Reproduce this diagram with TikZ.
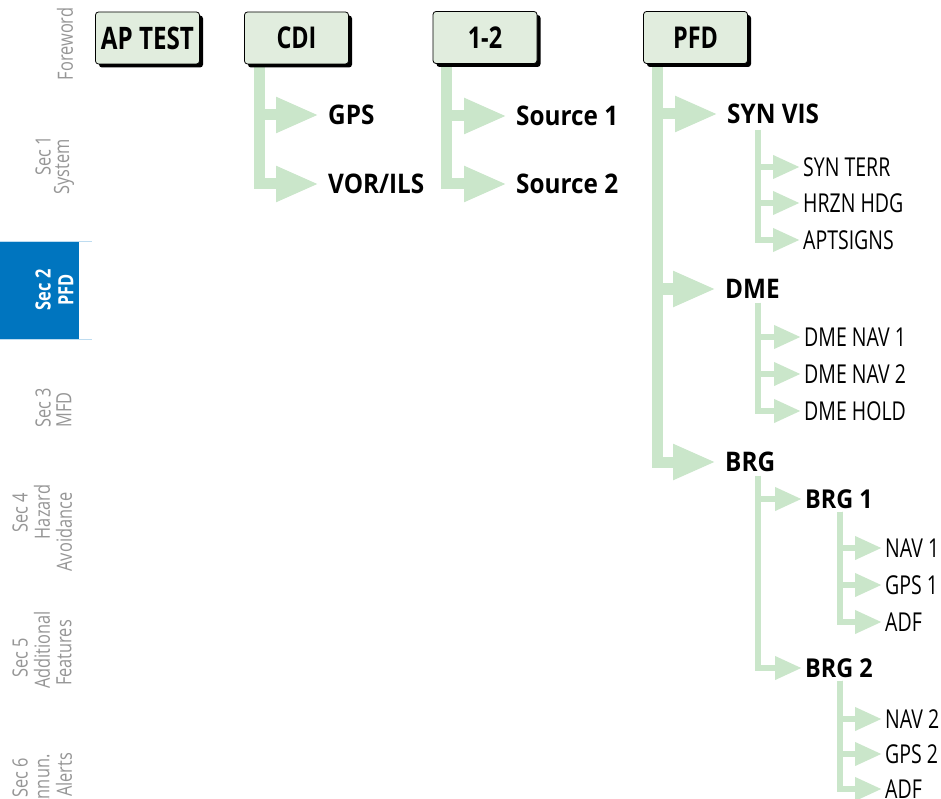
\documentclass[tikz,border=0pt]{standalone}
\usepackage{fontspec}
\setmainfont{Open Sans}
\newfontfamily\regf{Open Sans}[FakeStretch=0.75]
\newfontfamily\sidef{Open Sans}[FakeStretch=0.78]
\newfontfamily\bldf{Open Sans}[FakeStretch=0.9]
\newfontfamily\boxf{Open Sans}[FakeStretch=0.78]
\usetikzlibrary{arrows.meta,shadows}
\definecolor{linegreen}{RGB}{202,230,202}
\definecolor{boxgreen}{RGB}{225,237,222}
\definecolor{tabblue}{RGB}{0,117,191}
\definecolor{tabline}{RGB}{190,220,240}
\definecolor{sidegray}{RGB}{150,150,150}
\pgfdeclarelayer{background}
\pgfsetlayers{background,main}
\begin{document}
\begin{tikzpicture}[x=1pt,y=-1pt,
  box/.style={draw=black, line width=0.8pt, fill=boxgreen, rounded corners=3pt,
    minimum width=104pt, minimum height=52pt, inner sep=0pt,
    font=\boxf\bfseries\fontsize{30}{30}\selectfont,
    drop shadow={shadow xshift=3.5pt, shadow yshift=-3.5pt, fill=black, opacity=1}},
  bigbox/.style={box, font=\boxf\bfseries\fontsize{31}{31}\selectfont},
  lone/.style={anchor=west, inner sep=0pt, text height=19.3pt, text depth=0pt,
    font=\bldf\bfseries\fontsize{27}{27}\selectfont},
  ltwob/.style={anchor=west, inner sep=0pt, text height=18.6pt, text depth=0pt,
    font=\bldf\bfseries\fontsize{26}{26}\selectfont},
  ltwo/.style={anchor=west, inner sep=0pt, text height=18.6pt, text depth=0pt,
    font=\regf\fontsize{26}{26}\selectfont},
  side/.style={rotate=90, inner sep=0pt, text=sidegray, font=\sidef\fontsize{21}{21}\selectfont},
  sideon/.style={rotate=90, inner sep=0pt, text=white, font=\sidef\bfseries\fontsize{21}{21}\selectfont},
  bigarrow/.style={draw=linegreen, line width=11pt,
    -{Triangle[length=43pt, width=33pt]}, shorten >=9pt},
  smallarrow/.style={draw=linegreen, line width=6.5pt,
    -{Triangle[length=27pt, width=22pt]}, shorten >=3pt}
]
\useasboundingbox (0,0) rectangle (941,799);

% sidebar
\fill[tabblue] (0,242) rectangle (79,339);
\draw[tabline, line width=1pt] (0,242) -- (92,242);
\draw[tabline, line width=1pt] (0,339) -- (92,339);
\node[side] (sfw) at (65,44) {Foreword};
\node[side] (s1a) at (43,156) {Sec 1};
\node[side] (s1b) at (64,167) {System};
\node[sideon] (s2a) at (43,290) {Sec 2};
\node[sideon] (s2b) at (66,290) {PFD};
\node[side] (s3a) at (43,408) {Sec 3};
\node[side] (s3b) at (64,410) {MFD};
\node[side] (s4a) at (20,513) {Sec 4};
\node[side] (s4b) at (42,512) {Hazard};
\node[side] (s4c) at (64,532) {Avoidance};
\node[side] (s5a) at (20,658) {Sec 5};
\node[side] (s5b) at (42,650) {Additional};
\node[side] (s5c) at (64,653) {Features};
\node[side] (s6a) at (20,778) {Sec 6};
\node[side] (s6b) at (42,782) {Annun.};
\node[side] (s6c) at (64,775) {Alerts};

% top boxes
\node[bigbox] (aptest) at (147.5,38) {AP TEST};
\node[box] (cdi) at (296.5,38) {CDI};
\node[box] (onetwo) at (485,37.5) {1-2};
\node[box] (pfd) at (695.5,37.5) {PFD};

% level 1
\node[lone] (gps) at (328,115) {GPS};
\node[lone] (vor) at (328,184) {VOR/ILS};
\node[lone] (src1) at (516,116) {Source 1};
\node[lone] (src2) at (516,184) {Source 2};
\node[lone] (synvis) at (727,114) {SYN VIS};
\node[lone] (dme) at (725,289) {DME};
\node[lone] (brg) at (725,462) {BRG};

% level 2
\node[ltwo] (synterr) at (803,167) {SYN TERR};
\node[ltwo] (hrzn) at (803,203) {HRZN HDG};
\node[ltwo] (aptsigns) at (803,240) {APTSIGNS};
\node[ltwo] (dnav1) at (804,337) {DME NAV 1};
\node[ltwo] (dnav2) at (804,374) {DME NAV 2};
\node[ltwo] (dhold) at (804,411) {DME HOLD};
\node[ltwob] (brg1) at (805,499) {BRG 1};
\node[ltwob] (brg2) at (805,668) {BRG 2};

% level 3
\node[ltwo] (nav1) at (885,548) {NAV 1};
\node[ltwo] (gps1) at (885,585) {GPS 1};
\node[ltwo] (adf1) at (885,622) {ADF};
\node[ltwo] (nav2) at (885,719) {NAV 2};
\node[ltwo] (gps2) at (885,754) {GPS 2};
\node[ltwo] (adf2) at (885,789) {ADF};

% trunk origins
\coordinate (cdiT) at ([xshift=15pt]cdi.south west);
\coordinate (oneT) at ([xshift=13.5pt]onetwo.south west);
\coordinate (pfdT) at ([xshift=14.5pt]pfd.south west);
\coordinate (synT) at ([xshift=31pt,yshift=-6pt]synvis.south west);
\coordinate (dmeT) at ([xshift=33pt,yshift=-4pt]dme.south west);
\coordinate (brgT) at ([xshift=33pt,yshift=-4pt]brg.south west);
\coordinate (brg1T) at ([xshift=35pt,yshift=-3pt]brg1.south west);
\coordinate (brg2T) at ([xshift=35pt,yshift=-3pt]brg2.south west);

\begin{pgfonlayer}{background}
\fill[white] (0,0) rectangle (941,799);
\draw[bigarrow] (cdiT) |- (gps);
\draw[bigarrow] (cdiT) |- (vor);
\draw[bigarrow] (oneT) |- (src1);
\draw[bigarrow] (oneT) |- (src2);
\draw[bigarrow] (pfdT) |- (synvis);
\draw[bigarrow] (pfdT) |- (dme);
\draw[bigarrow] (pfdT) |- (brg);
\draw[smallarrow] (synT) |- (synterr);
\draw[smallarrow] (synT) |- (hrzn);
\draw[smallarrow] (synT) |- (aptsigns);
\draw[smallarrow] (dmeT) |- (dnav1);
\draw[smallarrow] (dmeT) |- (dnav2);
\draw[smallarrow] (dmeT) |- (dhold);
\draw[smallarrow] (brgT) |- (brg1);
\draw[smallarrow] (brgT) |- (brg2);
\draw[smallarrow] (brg1T) |- (nav1);
\draw[smallarrow] (brg1T) |- (gps1);
\draw[smallarrow] (brg1T) |- (adf1);
\draw[smallarrow] (brg2T) |- (nav2);
\draw[smallarrow] (brg2T) |- (gps2);
\draw[smallarrow] (brg2T) |- (adf2);
\end{pgfonlayer}
\end{tikzpicture}
\end{document}
